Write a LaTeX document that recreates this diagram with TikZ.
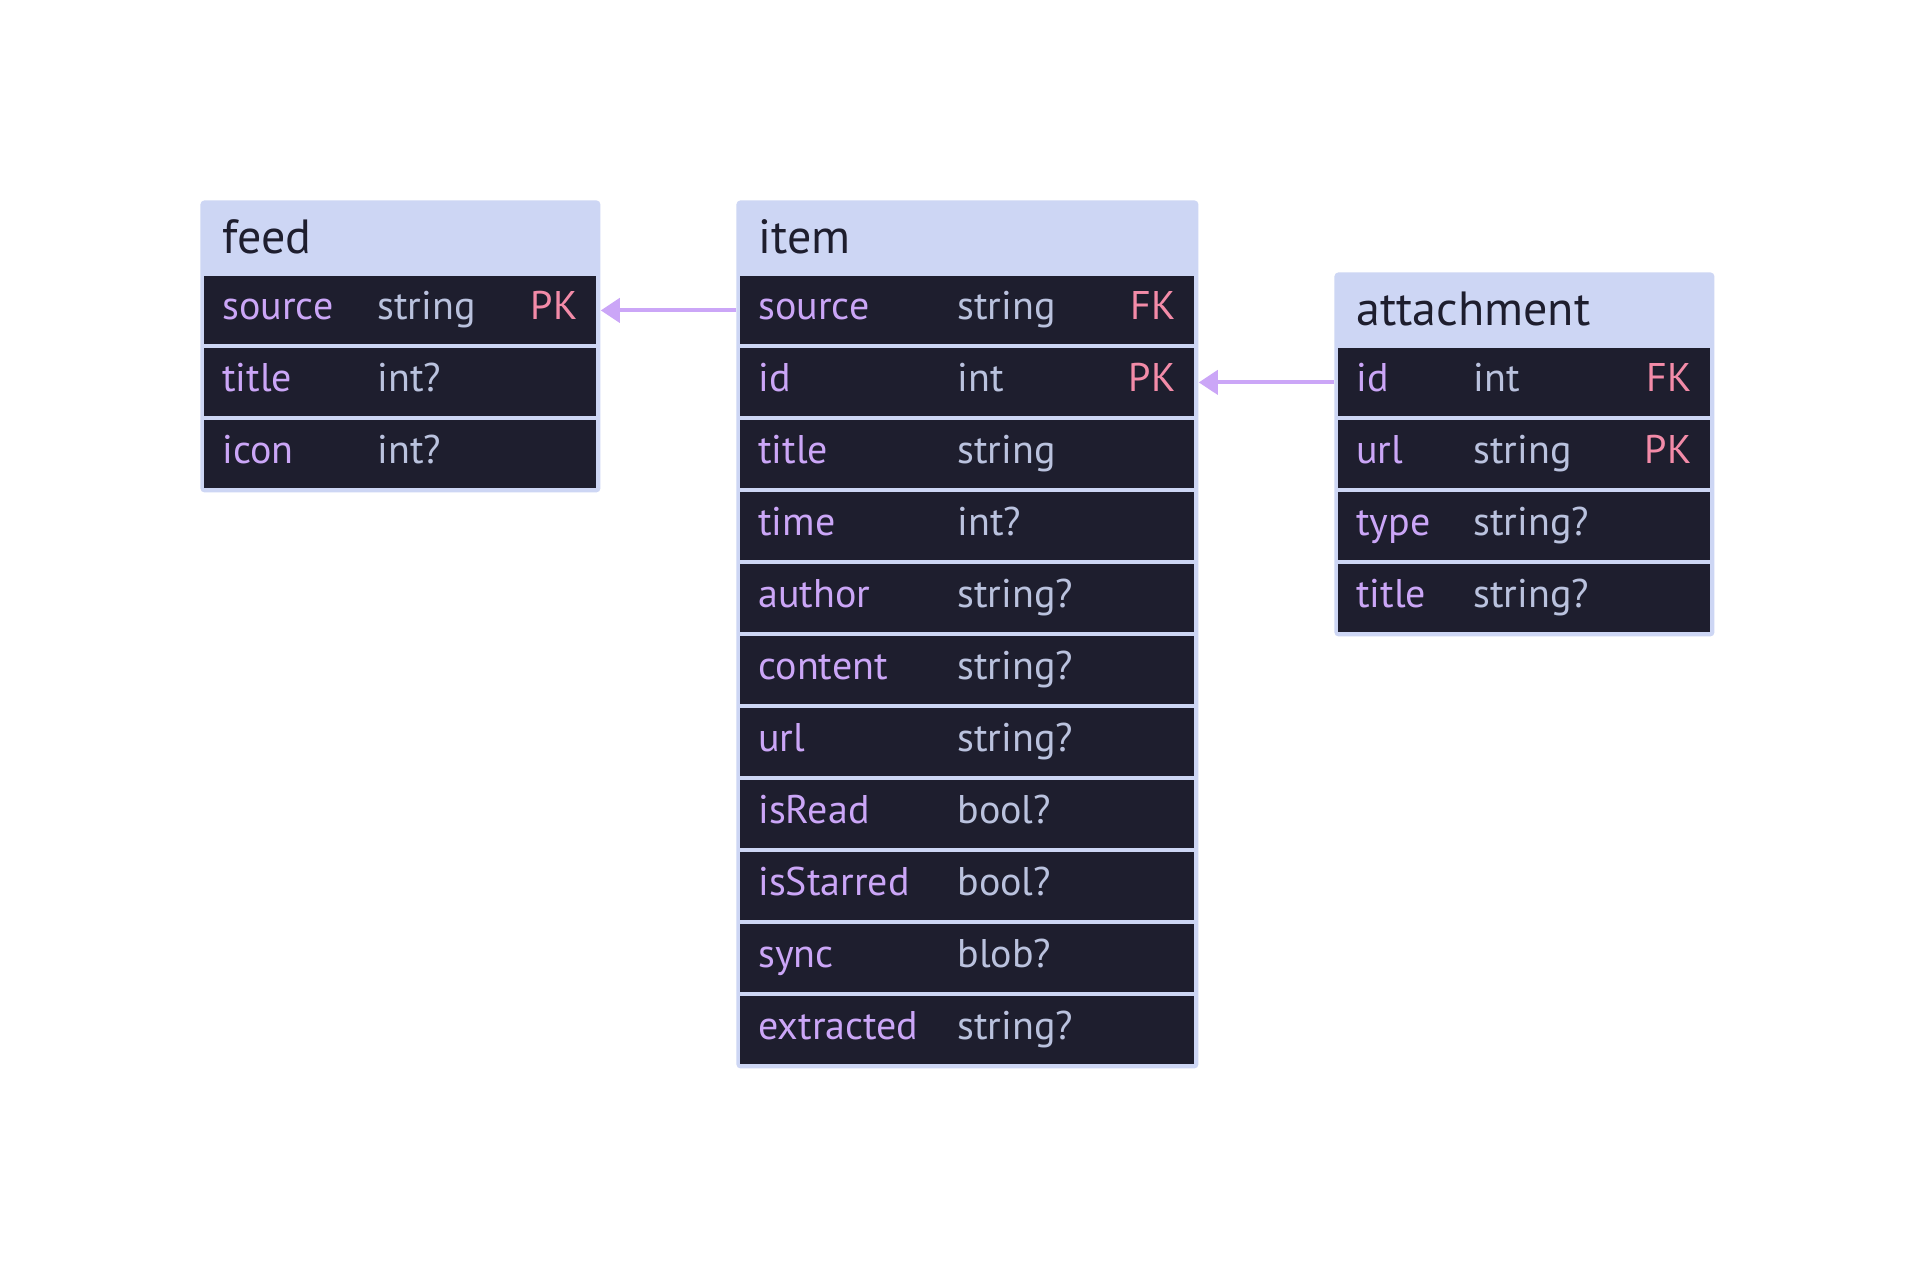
\documentclass[tikz,border=0pt]{standalone}
\usepackage{fontspec}
\setmainfont{PT Sans}
\usetikzlibrary{arrows.meta}

\definecolor{headfill}{HTML}{CDD6F4}
\definecolor{rowfill}{HTML}{1E1E2E}
\definecolor{colname}{HTML}{CBA6F7}
\definecolor{coltype}{HTML}{BAC2DE}
\definecolor{colkey}{HTML}{F38BA8}
\definecolor{linkcol}{HTML}{CBA6F7}

\tikzset{
  entity/.style={draw=none, fill=headfill, rounded corners=2pt, inner sep=0pt, anchor=north west},
  fieldrow/.style={draw=none, fill=rowfill, inner sep=0pt, anchor=north west,
    minimum height=34pt},
  txt/.style={inner sep=0pt, font=\fontsize{20}{24}\selectfont},
  entitytitle/.style={inner sep=0pt, font=\fontsize{24}{28}\selectfont, text=rowfill, anchor=base west},
  fname/.style={txt, text=colname, anchor=base west},
  ftype/.style={txt, text=coltype, anchor=base west},
  fkey/.style={txt, text=colkey, anchor=base east},
  fklink/.style={draw=linkcol, line width=2pt, -{Triangle[length=9.5pt, width=12pt]}},
}

% #1 id, #2 left, #3 top, #4 width, #5 type column offset,
% #6 title, #7 number of fields, #8 fields name/type/key
\newcommand\erentity[8]{%
  \node[entity, minimum width={(#4)*0.5pt}, minimum height={(76+72*#7)*0.5pt}]
    (#1) at (#2,#3) {};
  \node[entitytitle] (#1-title) at (#2+22,#3+53) {#6};
  \foreach \n/\t/\k [count=\i from 0] in {#8} {
    \pgfmathsetmacro\rowtop{#3+76+72*\i}
    \node[fieldrow, minimum width={(#4-8)*0.5pt}] (#1-\n) at (#2+4,\rowtop) {};
    \node[fname] (#1-\n-name) at (#2+22,\rowtop+43) {\n};
    \node[ftype] (#1-\n-type) at (#2+#5,\rowtop+43) {\t};
    \node[fkey]  (#1-\n-key)  at (#2+#4-22,\rowtop+43) {\k};
  }%
}

\begin{document}
\begin{tikzpicture}[x=0.5pt, y=-0.5pt]
  \useasboundingbox[fill=white] (0,0) rectangle (1914,1268);

  \erentity{feed}{200}{200}{400}{177}{feed}{3}{%
    source/string/PK, title/int?/, icon/int?/}

  \erentity{item}{736}{200}{462}{221}{item}{11}{%
    source/string/FK, id/int/PK, title/string/, time/int?/,
    author/string?/, content/string?/, url/string?/, isRead/bool?/,
    isStarred/bool?/, sync/blob?/, extracted/string?/}

  \erentity{attachment}{1334}{272}{380}{139}{attachment}{4}{%
    id/int/FK, url/string/PK, type/string?/, title/string?/}

  % foreign key links
  \draw[fklink] (item.west |- item-source.center) -- (feed.east |- feed-source.center);
  \draw[fklink] (attachment.west |- attachment-id.center) -- (item.east |- item-id.center);
\end{tikzpicture}
\end{document}
